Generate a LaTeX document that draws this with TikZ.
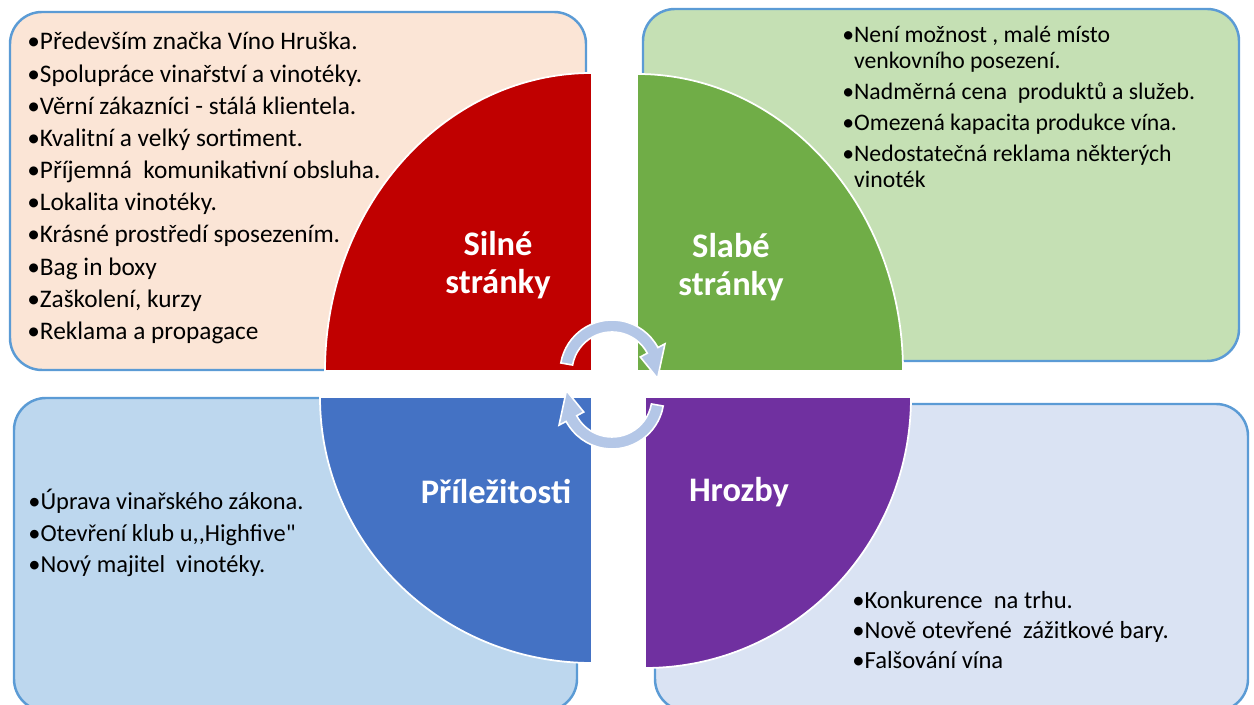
\documentclass[tikz,border=0pt]{standalone}
\usepackage{fontspec}
\usepackage{array}
\newfontfamily\calibri{Carlito}
\definecolor{boxline}{HTML}{5B9BD5}
\definecolor{peach}{HTML}{FBE5D6}
\definecolor{lgreen}{HTML}{C5E0B4}
\definecolor{lblue}{HTML}{BDD7EE}
\definecolor{lavender}{HTML}{DAE3F3}
\definecolor{qred}{HTML}{C00000}
\definecolor{qgreen}{HTML}{70AD47}
\definecolor{qblue}{HTML}{4472C4}
\definecolor{qpurple}{HTML}{7030A0}
\definecolor{loopblue}{HTML}{B4C7E7}

\begin{document}
\begin{tikzpicture}[x=0.02cm, y=0.02cm,
  box/.style={draw=boxline, line width=1.4pt, rounded corners=0.64cm},
  quarter/.style={draw=white, line width=1pt},
  lbl/.style={text=white, align=center, font=\calibri\bfseries\fontsize{19.6}{22}\selectfont},
  lst/.style={anchor=base west, inner sep=0pt},
  loop/.style={fill=loopblue, draw=white, line width=0.9pt}]
  \clip (0,0) rectangle (1254,705);
  % ctyri ramecky
  \draw[box, fill=peach] (10,335) rectangle (586,693);
  \draw[box, fill=lgreen] (643,344) rectangle (1239,696);
  \draw[box, fill=lblue] (14,-6) rectangle (577,307);
  \draw[box, fill=lavender] (655,-6) rectangle (1248,301);
  % ctvrtkruhy uprostred
  \filldraw[quarter, fill=qred] (592,334) -- (592,632) arc[start angle=90, end angle=180, x radius=267, y radius=298] -- cycle;
  \filldraw[quarter, fill=qgreen] (637,334) -- (637,631) arc[start angle=90, end angle=0, x radius=266, y radius=297] -- cycle;
  \filldraw[quarter, fill=qblue] (592,308) -- (320,308) arc[start angle=180, end angle=270, x radius=272, y radius=266] -- cycle;
  \filldraw[quarter, fill=qpurple] (645,308) -- (911,308) arc[start angle=0, end angle=-90, x radius=266, y radius=271] -- cycle;
  % kruhove sipky
  \begin{scope}[shift={(612,333)}]
    \filldraw[loop] (170:52) arc[start angle=170, end angle=28, radius=52] -- (28:60) -- (-8:46) -- (28:32) -- (28:40) arc[start angle=28, end angle=170, radius=40] -- cycle;
  \end{scope}
  \begin{scope}[shift={(612,308)}, rotate=180]
    \filldraw[loop] (170:52) arc[start angle=170, end angle=28, radius=52] -- (28:60) -- (-8:46) -- (28:32) -- (28:40) arc[start angle=28, end angle=170, radius=40] -- cycle;
  \end{scope}
  % nadpisy
  \node[lbl] (silne) at (498,440) {Silné\\stránky};
  \node[lbl] (slabe) at (731,438) {Slabé\\stránky};
  \node[lbl] (prilez) at (496,213) {Příležitosti};
  \node[lbl] (hrozby) at (739,213) {Hrozby};
  % seznamy
  \node[lst, font=\calibri\fontsize{14.4}{18.3}\selectfont] (silneList) at (27,655) {\begin{tabular}[t]{@{}l@{}}
    •Především značka Víno Hruška.\\
    •Spolupráce vinařství a vinotéky.\\
    •Věrní zákazníci - stálá klientela.\\
    •Kvalitní a velký sortiment.\\
    •Příjemná\ \ komunikativní obsluha.\\
    •Lokalita vinotéky.\\
    •Krásné prostředí sposezením.\\
    •Bag in boxy\\
    •Zaškolení, kurzy\\
    •Reklama a propagace
  \end{tabular}};
  \node[lst, font=\calibri\fontsize{13.5}{14.8}\selectfont] (slabeList) at (842,662) {\begin{tabular}[t]{@{}l@{}l@{}}
    •&Není možnost , malé místo\\
    &venkovního posezení.\\[2.8pt]
    •&Nadměrná cena\ \ produktů a služeb.\\[2.8pt]
    •&Omezená kapacita produkce vína.\\[2.8pt]
    •&Nedostatečná reklama některých\\
    &vinoték
  \end{tabular}};
  \node[lst, font=\calibri\fontsize{13.9}{17.9}\selectfont] (prilezList) at (28,195) {\begin{tabular}[t]{@{}l@{}}
    •Úprava vinařského zákona.\\
    •Otevření klub u,,Highfive"\\
    •Nový majitel\ \ vinotéky.
  \end{tabular}};
  \node[lst, font=\calibri\fontsize{14}{16.8}\selectfont] (hrozbyList) at (852,96) {\begin{tabular}[t]{@{}l@{}}
    •Konkurence\ \ na trhu.\\
    •Nově otevřené\ \ zážitkové bary.\\
    •Falšování vína
  \end{tabular}};
\end{tikzpicture}
\end{document}
